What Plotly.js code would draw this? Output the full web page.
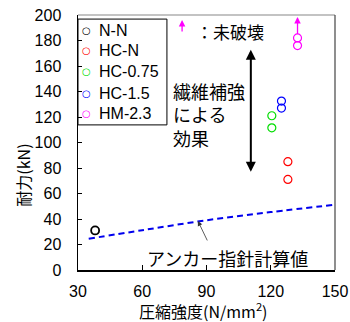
<!DOCTYPE html>
<html><head><meta charset="utf-8">
<script src="https://cdn.plot.ly/plotly-3.0.1.min.js"></script>
<style>html,body{margin:0;padding:0;background:#fff}#c{width:350px;height:322px}</style>
</head><body><div id="c"></div>
<script>
const nnX=[38], nnY=[31];
const hcnX=[128,128], hcnY=[85,71];
const hc075X=[120.5,120.5], hc075Y=[121,111.5];
const hc15X=[125,125], hc15Y=[132.5,127];
const hmX=[132.5,132.5], hmY=[182,176];
const guideX=[35,60,90,120,150], guideY=[24.5,31.2,39,45.4,51.2];
const xTicks=[30,60,90,120,150], yTicks=[0,20,40,60,80,100,120,140,160,180,200];
const seriesNames=['N-N','HC-N','HC-0.75','HC-1.5','HM-2.3'];
const seriesColors=['#000000','#ff0000','#00dd00','#0000ff','#ff00ff'];
const effectX=110.7, effectLow=77, effectHigh=174;
const arrowX=132.5, arrowTail=184, arrowHead=198.5;

const F='Liberation Sans, Arial, Noto Sans CJK JP, sans-serif';
const J='Noto Sans CJK JP, sans-serif';
function pts(i,x,y,w){const c=seriesColors[i];return {type:'scatter',mode:'markers',name:seriesNames[i],x:x,y:y,
  marker:{symbol:'circle-open',size:8,color:c,line:{width:w||1.2,color:c}},cliponaxis:false,showlegend:false};}
const data=[
  pts(0,nnX,nnY,1.8),
  pts(1,hcnX,hcnY),
  pts(2,hc075X,hc075Y),
  pts(3,hc15X,hc15Y),
  pts(4,hmX,hmY),
  {type:'scatter',mode:'lines',x:guideX,y:guideY,showlegend:false,
   line:{color:'#0000ee',width:2,dash:'6px,4px',shape:'spline'}}
];
// custom legend (box + entries)
const legTop=0.984, legBottom=0.569, legRight=0.346;
const legRows=[0.941,0.859,0.778,0.694,0.612];
const legendAnn=[];
seriesNames.forEach((n,i)=>{
  legendAnn.push({xref:'paper',yref:'paper',x:0.035,y:legRows[i],text:'○',showarrow:false,
    xanchor:'center',yanchor:'middle',font:{family:'DejaVu Sans',size:10,color:seriesColors[i]}});
  legendAnn.push({xref:'paper',yref:'paper',x:0.072,y:legRows[i],text:n,showarrow:false,
    xanchor:'left',yanchor:'middle',font:{family:F,size:16,color:'#000'}});
});
const layout={
  width:350,height:322,margin:{l:78,r:15,t:15,b:52},
  paper_bgcolor:'#fff',plot_bgcolor:'#fff',
  font:{family:F,size:16,color:'#000'},
  showlegend:false,
  xaxis:{range:[30,150],tickvals:xTicks,ticks:'inside',ticklen:5,tickcolor:'#000',
    showline:true,linecolor:'#000',linewidth:1.5,showgrid:false,zeroline:false,
    tickfont:{family:F,size:16},ticklabelstandoff:6,title:{text:''}},
  yaxis:{range:[0,200],tickvals:yTicks,ticks:'inside',ticklen:4,tickcolor:'#000',
    showline:true,linecolor:'#000',linewidth:1.5,showgrid:false,zeroline:false,
    tickfont:{family:F,size:16},ticklabelstandoff:12,title:{text:''}},
  shapes:[
    {type:'line',xref:'paper',yref:'paper',x0:0,x1:1,y0:1,y1:1,line:{color:'#888',width:1.2}},
    {type:'line',xref:'paper',yref:'paper',x0:1,x1:1,y0:0,y1:1,line:{color:'#444',width:1.2}},
    {type:'rect',xref:'paper',yref:'paper',x0:0,x1:legRight,y0:legBottom,y1:legTop,
     line:{color:'#000',width:1},fillcolor:'rgba(0,0,0,0)'}
  ],
  annotations:legendAnn.concat([
    {xref:'paper',yref:'paper',x:0.49,y:0,yshift:-40,text:'圧縮強度(N/mm<sup>2</sup>)',showarrow:false,
     font:{family:J,size:16},xanchor:'center',yanchor:'middle'},
    {xref:'paper',yref:'paper',x:0,xshift:-55,y:0.37,text:'耐力(kN)',textangle:-90,showarrow:false,
     font:{family:J,size:16},xanchor:'center',yanchor:'middle'},
    {x:effectX,y:effectLow,ax:effectX,ay:effectHigh,axref:'x',ayref:'y',text:'',showarrow:true,
     arrowhead:2,startarrowhead:2,arrowside:'end+start',arrowsize:1,arrowwidth:2,arrowcolor:'#000'},
    {x:arrowX,y:arrowHead,ax:arrowX,ay:arrowTail,axref:'x',ayref:'y',text:'',showarrow:true,
     arrowhead:2,arrowsize:1,arrowwidth:1.3,arrowcolor:'#ff00ff'},
    {xref:'paper',yref:'paper',x:0.405,y:0.98,ax:0,ay:13,text:'',showarrow:true,
     arrowhead:2,arrowsize:1,arrowwidth:1.3,arrowcolor:'#ff00ff'},
    {xref:'paper',yref:'paper',x:0.45,y:0.935,text:'：未破壊',showarrow:false,xanchor:'left',yanchor:'middle',
     font:{family:J,size:17}},
    {x:109,y:121.6,text:'繊維補強<br>による<br>効果',showarrow:false,xanchor:'right',yanchor:'middle',align:'left',
     font:{family:J,size:18}},
    {x:86,y:38.4,ax:90.7,ay:22,axref:'x',ayref:'y',text:'',showarrow:true,
     arrowhead:2,arrowsize:1.2,arrowwidth:0.8,arrowcolor:'#333'},
    {x:100,y:9.5,text:'アンカー指針計算値',showarrow:false,xanchor:'center',yanchor:'middle',
     font:{family:J,size:18}}
  ])
};
Plotly.newPlot('c',data,layout,{displayModeBar:false,staticPlot:true});
</script></body></html>
